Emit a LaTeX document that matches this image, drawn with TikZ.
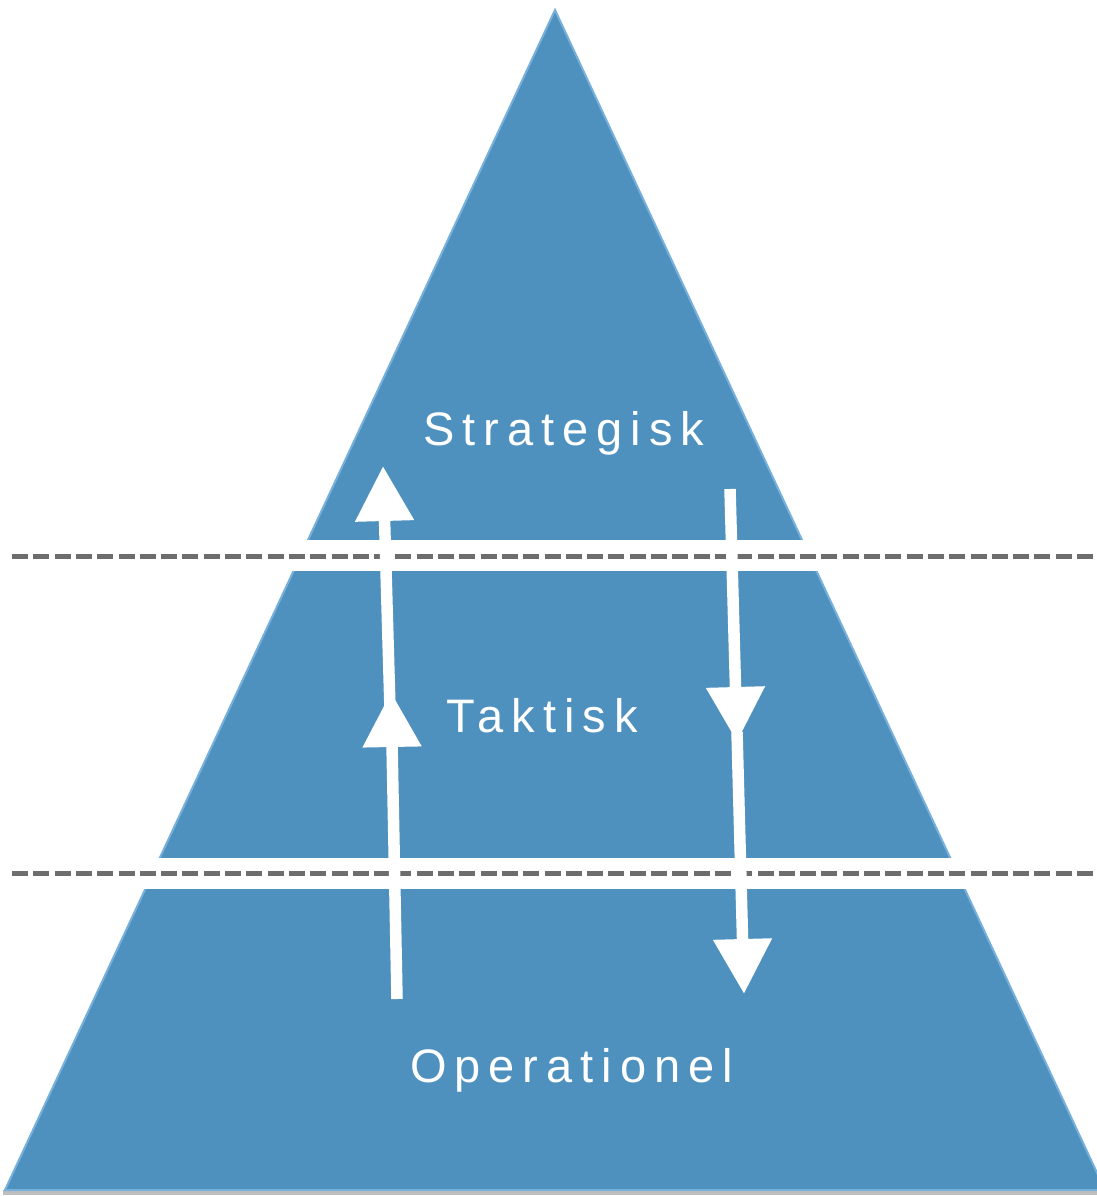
\documentclass[tikz,border=0pt]{standalone}
\usepackage{fontspec}
\setmainfont{Liberation Sans}
\usetikzlibrary{arrows.meta}
\definecolor{pyrblue}{RGB}{78,145,190}
\definecolor{pyredge}{RGB}{120,176,220}
\definecolor{dashgray}{RGB}{109,109,109}
\tikzset{
  levellabel/.style={text=white, inner sep=0pt, anchor=base west,
    font=\fontsize{47}{56}\selectfont\addfontfeature{LetterSpace=17}},
  band/.style={fill=white, draw=none},
  divider/.style={draw=dashgray, line width=5pt, dash pattern=on 16pt off 5.3pt},
  flow/.style={draw=white, line width=11.5pt,
    -{Triangle[length=55pt,width=56pt]}},
}
\begin{document}
\begin{tikzpicture}[x=1pt,y=-1pt]
\useasboundingbox (0,0) rectangle (1096,1196);
% coordinates
\coordinate (apex) at (555,10);
\coordinate (bl) at (5,1190);
\coordinate (br) at (1105,1190);
% shadow
\fill[black!25] (3,1190) rectangle (1105,1195);
% pyramid
\fill[pyrblue, draw=pyredge, line width=2pt] (apex) -- (bl) -- (br) -- cycle;
% bands
\fill[band] (0,540) rectangle (1096,571);
\fill[band] (0,858) rectangle (1096,889);
% dashed dividers
\coordinate (d1a) at (12,556);
\coordinate (d1b) at (1096,556);
\coordinate (d2a) at (12,873);
\coordinate (d2b) at (1096,873);
\draw[divider] (d1a) -- (d1b);
\draw[divider] (d2a) -- (d2b);
% up arrow
\coordinate (u0) at (397,999);
\coordinate (u1) at (391,692);
\coordinate (u2) at (391,744);
\coordinate (u3) at (383,466);
\draw[flow] (u0) -- (u1);
\draw[flow] (u2) -- (u3);
% down arrow
\coordinate (w0) at (730,489);
\coordinate (w1) at (737,742);
\coordinate (w2) at (737,732);
\coordinate (w3) at (744,994);
\draw[flow] (w0) -- (w1);
\draw[flow] (w2) -- (w3);
% labels
\node[levellabel] (strat) at (423,445) {Strategisk};
\node[levellabel] (takt) at (446,732) {Taktisk};
\node[levellabel] (oper) at (410,1082) {Operationel};
\end{tikzpicture}
\end{document}
